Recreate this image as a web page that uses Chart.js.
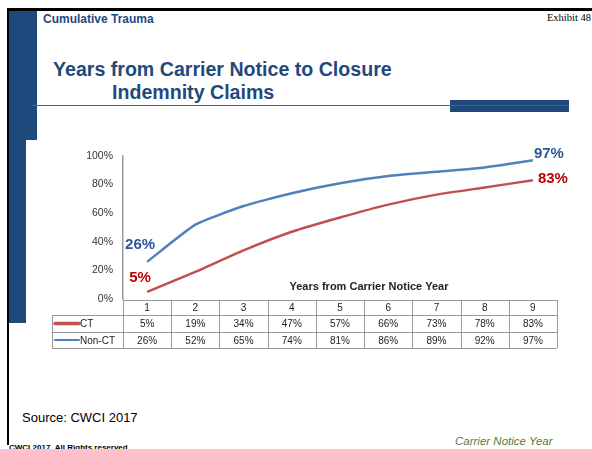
<!DOCTYPE html>
<html lang="en">
<head>
  <meta charset="UTF-8" />
  <title>Years from Carrier Notice to Closure</title>
  <script src="https://cdn.jsdelivr.net/npm/chart.js"></script>
  <style>
    body {
      margin: 0;
      width: 592px;
      height: 449px;
      overflow: hidden;
      background: #fff;
      font-family: 'Liberation Sans', Arial, sans-serif;
      position: relative;
    }

    .abs { position: absolute; white-space: nowrap; line-height: normal; }

    #frameTop { left: 7px; top: 8px; width: 585px; height: 3px; background: #000; }
    #frameLeft { left: 7px; top: 8px; width: 2px; height: 437px; background: #000; }
    #barWide { left: 9px; top: 11px; width: 28px; height: 129px; background: #1f497d; }
    #barNarrow { left: 9px; top: 140px; width: 17px; height: 183px; background: #1f497d; }

    #section { left: 43px; top: 12px; font-size: 12px; font-weight: bold; color: #1f497d; }
    #exhibit { right: 1px; top: 12px; font-size: 10.5px; font-family: 'Liberation Serif', 'Times New Roman', serif; color: #000; }

    .title { font-size: 19.6px; font-weight: bold; color: #1f497d; }
    #title1 { left: 53px; top: 58px; }
    #title2 { left: 112px; top: 81px; }

    #rule { left: 31px; top: 105px; width: 538px; height: 1px; background: #1e7b7b; }
    #ruleBox { left: 450px; top: 100px; width: 119px; height: 12px; background: #1f497d; }

    #source { left: 22px; top: 410px; font-size: 13px; color: #000; }
    #rights { left: 9px; top: 443px; font-size: 8px; font-weight: bold; color: #000; }
    #footer { left: 455px; top: 435px; font-size: 11.5px; font-style: italic; color: #5a7a3a; }

    #chart { position: absolute; left: 0; top: 0; }
  </style>
</head>

<body>
  <div class="abs" id="frameTop"></div>
  <div class="abs" id="frameLeft"></div>
  <div class="abs" id="barWide"></div>
  <div class="abs" id="barNarrow"></div>

  <div class="abs" id="section">Cumulative Trauma</div>
  <div class="abs" id="exhibit">Exhibit 48</div>
  <div class="abs title" id="title1">Years from Carrier Notice to Closure</div>
  <div class="abs title" id="title2">Indemnity Claims</div>
  <div class="abs" id="ruleBox"></div>
  <div class="abs" id="rule"></div>

  <div class="abs" id="source">Source: CWCI 2017</div>
  <div class="abs" id="rights">CWCI 2017 &nbsp;All Rights reserved</div>
  <div class="abs" id="footer">Carrier Notice Year</div>

  <canvas id="chart" width="592" height="449"></canvas>

  <script>
    // years from carrier notice
    const years = ['1', '2', '3', '4', '5', '6', '7', '8', '9'];
    // share of claims closed (%)
    const ctValues = [5, 19, 34, 47, 57, 66, 73, 78, 83];
    const nonCtValues = [26, 52, 65, 74, 81, 86, 89, 92, 97];
    const seriesNames = ['CT', 'Non-CT'];
    const yTicks = [0, 20, 40, 60, 80, 100];
    const axisTitle = 'Years from Carrier Notice Year';

    const RED = '#c0504d';
    const BLUE = '#4f81bd';
    const FONT = "'Liberation Sans', Arial, sans-serif";

    // first / last point labels: [dataset, index, color, dx, dy, align]
    const pointLabels = [
      [1, 0, '#2a5694', -7, -17, 'center'],
      [0, 0, '#c00000', -7, -14, 'center'],
      [1, 8, '#2a5694', 1, -6, 'left'],
      [0, 8, '#c00000', 5, -1, 'left']
    ];

    const tablePlugin = {
      id: 'dataTable',
      afterDraw(chart) {
        const ctx = chart.ctx;
        const x = chart.scales.x;
        const area = chart.chartArea;
        const half = (x.getPixelForValue(1) - x.getPixelForValue(0)) / 2;
        const left = area.left, right = area.right;
        const labelLeft = 52;
        const rows = [area.bottom + 1, area.bottom + 16, area.bottom + 33, area.bottom + 49];

        ctx.save();
        ctx.strokeStyle = '#9a9a9a';
        ctx.lineWidth = 1;
        ctx.beginPath();
        // horizontal lines
        ctx.moveTo(left, rows[0] + 0.5); ctx.lineTo(right, rows[0] + 0.5);
        for (let r = 1; r < rows.length; r++) {
          ctx.moveTo(labelLeft, rows[r] + 0.5); ctx.lineTo(right, rows[r] + 0.5);
        }
        // vertical lines
        for (let i = 0; i <= years.length; i++) {
          const px = Math.round(x.getPixelForValue(i) - half) + 0.5;
          ctx.moveTo(px, rows[0]); ctx.lineTo(px, rows[3]);
        }
        ctx.moveTo(labelLeft + 0.5, rows[1]); ctx.lineTo(labelLeft + 0.5, rows[3]);
        ctx.stroke();

        ctx.font = '10px ' + FONT;
        ctx.fillStyle = '#222';
        ctx.textAlign = 'center';
        ctx.textBaseline = 'middle';
        years.forEach((y, i) => {
          const cx = x.getPixelForValue(i);
          ctx.fillText(y, cx, (rows[0] + rows[1]) / 2 + 1);
          ctx.fillText(ctValues[i] + '%', cx, (rows[1] + rows[2]) / 2 + 1);
          ctx.fillText(nonCtValues[i] + '%', cx, (rows[2] + rows[3]) / 2 + 1);
        });

        // legend keys
        const keys = [[RED, 3.5, seriesNames[0], 80], [BLUE, 2.2, seriesNames[1], 80]];
        keys.forEach((k, r) => {
          const cy = (rows[r + 1] + rows[r + 2]) / 2;
          ctx.strokeStyle = k[0];
          ctx.lineWidth = k[1];
          ctx.lineCap = 'round';
          ctx.beginPath();
          ctx.moveTo(55, cy); ctx.lineTo(79, cy);
          ctx.stroke();
          ctx.fillStyle = '#222';
          ctx.textAlign = 'left';
          ctx.font = '10px ' + FONT;
          ctx.fillText(k[2], k[3], cy + 1);
        });

        // axis title above the table
        ctx.font = 'bold 11px ' + FONT;
        ctx.fillStyle = '#222';
        ctx.textAlign = 'center';
        ctx.fillText(axisTitle, 369, area.bottom - 12);

        // end point labels
        ctx.font = 'bold 15px ' + FONT;
        pointLabels.forEach(([ds, idx, color, dx, dy, align]) => {
          const pt = chart.getDatasetMeta(ds).data[idx];
          const v = chart.data.datasets[ds].data[idx];
          ctx.fillStyle = color;
          ctx.textAlign = align;
          ctx.fillText(v + '%', pt.x + dx, pt.y + dy);
        });
        ctx.restore();
      }
    };

    new Chart(document.getElementById('chart'), {
      type: 'line',
      data: {
        labels: years,
        datasets: [
          { label: seriesNames[0], data: ctValues, borderColor: RED, borderWidth: 2.5, pointRadius: 0, tension: 0.15 },
          { label: seriesNames[1], data: nonCtValues, borderColor: BLUE, borderWidth: 2.5, pointRadius: 0, tension: 0.15 }
        ]
      },
      options: {
        responsive: false,
        animation: false,
        layout: { padding: { left: 52, right: 35, top: 156, bottom: 150 } },
        plugins: { legend: { display: false }, tooltip: { enabled: false } },
        scales: {
          x: {
            display: false,
            offset: true
          },
          y: {
            min: 0,
            max: 100,
            afterFit(scale) { scale.width = 71; },
            afterBuildTicks(scale) { scale.ticks = yTicks.map(v => ({ value: v })); },
            grid: { display: false, drawTicks: false },
            border: { color: '#9a9a9a', width: 1.5 },
            ticks: {
              padding: 10,
              color: '#333',
              font: { family: FONT, size: 10.5 },
              callback: v => v + '%'
            }
          }
        }
      },
      plugins: [tablePlugin]
    });
  </script>
</body>
</html>
